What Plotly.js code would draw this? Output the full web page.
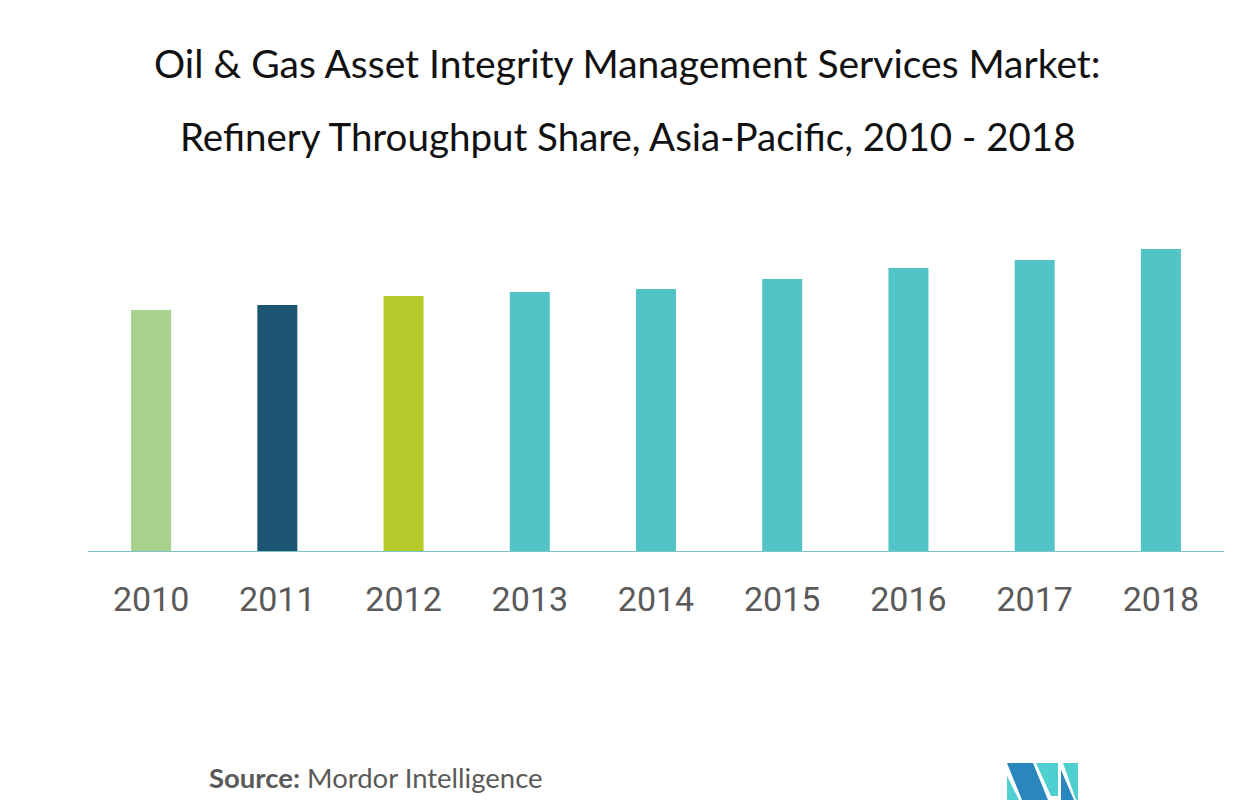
<!DOCTYPE html>
<html>
<head>
<meta charset="utf-8">
<script src="https://cdn.plot.ly/plotly-3.0.1.min.js"></script>
<style>html,body{margin:0;padding:0;background:#fff;}#chart{width:1254px;height:803px;}</style>
</head>
<body>
<div id="chart"></div>
<script>
const years = ["2010","2011","2012","2013","2014","2015","2016","2017","2018"];
const shareValues = [24.1, 24.6, 25.5, 25.9, 26.2, 27.2, 28.3, 29.1, 30.2];
const barColors = ["#a9d18e","#1d5673","#b5c92a","#52c4c7","#52c4c7","#52c4c7","#52c4c7","#52c4c7","#52c4c7"];
const titleLine1 = "Oil & Gas Asset Integrity Management Services Market:";
const titleLine2 = "Refinery Throughput Share, Asia-Pacific, 2010 - 2018";
const sourceText = "<b>Source:</b> Mordor Intelligence";

const W = 1254, H = 803;
const M = {l: 88, r: 30, t: 230, b: 252};
const pw = W - M.l - M.r, ph = H - M.t - M.b;
const px = x => (x - M.l) / pw;
const py = y => (H - M.b - y) / ph;
function poly(pts){ return 'M' + pts.map(p => px(p[0]).toFixed(5) + ',' + py(p[1]).toFixed(5)).join(' L') + ' Z'; }

const dark = "#2a87bd", teal = "#4fcfcf";
const logo = [
  {pts: [[1007,763],[1033,763],[1048,800],[1022,800]], c: dark},
  {pts: [[1007,776],[1019,800],[1007,800]], c: teal},
  {pts: [[1036,763],[1058,763],[1058,796],[1051,796]], c: teal},
  {pts: [[1061,770],[1074,800],[1061,800]], c: dark},
  {pts: [[1063,763],[1078,763],[1078,800],[1076,800]], c: teal}
];

const trace = {
  type: 'bar', x: years, y: shareValues,
  marker: {color: barColors, line: {width: 0}},
  width: 0.317, hoverinfo: 'x+y'
};

const layout = {
  width: W, height: H,
  margin: M,
  paper_bgcolor: '#fff', plot_bgcolor: '#fff',
  showlegend: false,
  xaxis: {
    type: 'category', range: [-0.5, 8.5],
    showgrid: false, zeroline: false,
    showline: true, linecolor: '#7cc4c4', linewidth: 1,
    ticks: '', ticklen: 0, ticklabelstandoff: 18,
    tickfont: {family: 'Roboto, sans-serif', size: 34, color: '#5a5a5a'},
    fixedrange: true
  },
  yaxis: {
    range: [0, 32.1], visible: false, showgrid: false, zeroline: false, fixedrange: true
  },
  annotations: [
    {text: titleLine1, xref: 'paper', yref: 'paper', x: px(627), y: py(63), xanchor: 'center', yanchor: 'middle', showarrow: false,
     font: {family: 'Lato, sans-serif', size: 39, color: '#111'}},
    {text: titleLine2, xref: 'paper', yref: 'paper', x: px(627), y: py(136), xanchor: 'center', yanchor: 'middle', showarrow: false,
     font: {family: 'Lato, sans-serif', size: 38.5, color: '#111'}},
    {text: sourceText, xref: 'paper', yref: 'paper', x: px(207), y: py(777), xanchor: 'left', yanchor: 'middle', showarrow: false,
     font: {family: 'Lato, sans-serif', size: 27.5, color: '#5a5a5a'}}
  ],
  shapes: logo.map(s => ({type: 'path', xref: 'paper', yref: 'paper', path: poly(s.pts), fillcolor: s.c, line: {width: 0}}))
};

Plotly.newPlot('chart', [trace], layout, {displayModeBar: false, staticPlot: true});
</script>
</body>
</html>
